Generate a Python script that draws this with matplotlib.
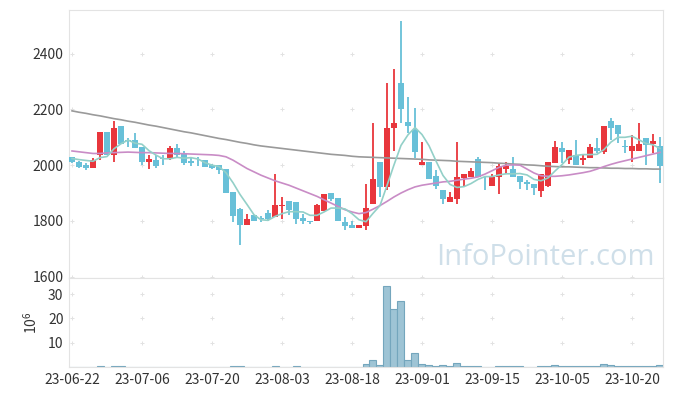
import numpy as np
import matplotlib
matplotlib.use("Agg")
import matplotlib.pyplot as plt

plt.rcParams["font.family"] = ["Noto Sans CJK KR", "DejaVu Sans"]

# daily OHLC (KRW), 2023-06-22 .. 2023-10-26, trading days only
opens = [2028, 2011, 1999, 1989, 2035, 2118, 2035, 2140, 2092, 2090,
         2064, 2012, 2020, 2026, 2023, 2061, 2040, 2016, 2002, 2020,
         1999, 1999, 1986, 1903, 1842, 1786, 1820, 1812, 1828, 1814,
         1855, 1871, 1867, 1811, 1801, 1800, 1835, 1899, 1881, 1795,
         1784, 1774, 1782, 1862, 2013, 1920, 2135, 2294, 2156, 2128,
         2001, 2013, 1962, 1910, 1868, 1880, 1953, 1956, 2022, 1937,
         1925, 1959, 1987, 1988, 1960, 1940, 1932, 1908, 1926, 2008,
         2060, 2018, 2038, 2018, 2026, 2062, 2048, 2158, 2144, 2068,
         2051, 2050, 2099, 2077, 2068]
highs = [2030, 2014, 2008, 2026, 2118, 2118, 2157, 2140, 2098, 2117,
         2064, 2038, 2038, 2036, 2068, 2077, 2051, 2028, 2028, 2020,
         2006, 1999, 1986, 1903, 1848, 1826, 1822, 1817, 1838, 1968,
         1884, 1871, 1867, 1823, 1801, 1862, 1898, 1899, 1881, 1814,
         1798, 1784, 1934, 2150, 2013, 2294, 2344, 2517, 2243, 2204,
         2084, 2013, 1984, 1910, 1904, 2084, 1968, 1990, 2028, 1956,
         1968, 2004, 2011, 2028, 1960, 1946, 1932, 1970, 2011, 2085,
         2084, 2054, 2092, 2036, 2075, 2099, 2140, 2168, 2144, 2090,
         2108, 2150, 2099, 2111, 2100]
lows = [2008, 1990, 1982, 1989, 2020, 2035, 2012, 2076, 2066, 2060,
        1999, 1988, 1990, 1999, 2020, 2030, 1999, 1998, 1996, 1992,
        1985, 1970, 1900, 1796, 1715, 1786, 1800, 1795, 1800, 1814,
        1807, 1820, 1790, 1790, 1788, 1800, 1835, 1872, 1800, 1769,
        1774, 1774, 1766, 1862, 1886, 1910, 2051, 2150, 2116, 2024,
        2001, 1949, 1916, 1862, 1868, 1862, 1925, 1956, 1956, 1910,
        1925, 1898, 1970, 1958, 1916, 1910, 1892, 1886, 1920, 2008,
        2008, 2004, 2000, 1999, 2026, 2042, 2040, 2092, 2078, 2042,
        2012, 2050, 2000, 2042, 1936]
closes = [2012, 1994, 1989, 2020, 2118, 2035, 2135, 2076, 2088, 2062,
          2012, 2022, 1998, 2022, 2061, 2035, 2008, 2008, 1999, 1994,
          1990, 1982, 1900, 1818, 1786, 1807, 1800, 1807, 1808, 1856,
          1858, 1838, 1807, 1800, 1799, 1856, 1898, 1879, 1800, 1781,
          1774, 1784, 1848, 1950, 1920, 2135, 2150, 2200, 2140, 2048,
          2013, 1949, 1925, 1880, 1886, 1958, 1968, 1978, 1956, 1936,
          1959, 1996, 1996, 1958, 1940, 1933, 1918, 1970, 2011, 2064,
          2048, 2054, 2000, 2025, 2064, 2051, 2140, 2133, 2111, 2066,
          2068, 2075, 2072, 2086, 1997]
# volume, millions of shares
volume = [0.1, 0.1, 0.1, 0.1, 0.35, 0.1, 0.35, 0.35, 0.1, 0.1,
          0.1, 0.1, 0.1, 0.1, 0.1, 0.1, 0.1, 0.1, 0.1, 0.1,
          0.1, 0.1, 0.1, 0.35, 0.35, 0.1, 0.1, 0.1, 0.1, 0.35,
          0.1, 0.1, 0.35, 0.1, 0.1, 0.1, 0.1, 0.1, 0.1, 0.1,
          0.1, 0.1, 1.1, 2.9, 0.7, 33.3, 24.1, 27.2, 2.9, 5.6,
          1.2, 0.7, 0.35, 0.7, 0.35, 1.5, 0.35, 0.35, 0.35, 0.1,
          0.1, 0.35, 0.35, 0.35, 0.35, 0.1, 0.1, 0.35, 0.35, 0.7,
          0.35, 0.35, 0.35, 0.35, 0.35, 0.35, 1.1, 0.7, 0.35, 0.35,
          0.35, 0.35, 0.35, 0.35, 0.7]

# moving averages as drawn
ma5 = [2024, 2020, 2017, 2014, 2027, 2031, 2059, 2077, 2090, 2079,
       2075, 2052, 2036, 2023, 2023, 2028, 2025, 2027, 2022, 2009,
       2000, 1995, 1973, 1937, 1895, 1859, 1822, 1804, 1802, 1816,
       1826, 1833, 1833, 1832, 1820, 1820, 1832, 1846, 1846, 1843,
       1826, 1804, 1797, 1827, 1855, 1927, 2001, 2071, 2109, 2135,
       2110, 2070, 2015, 1963, 1931, 1920, 1923, 1934, 1949, 1959,
       1959, 1965, 1969, 1969, 1970, 1965, 1949, 1944, 1954, 1979,
       2002, 2029, 2035, 2038, 2038, 2039, 2056, 2083, 2100, 2100,
       2104, 2091, 2078, 2073, 2060]
ma20 = [2051, 2048, 2045, 2042, 2042, 2044, 2045, 2046, 2047, 2046,
        2045, 2045, 2044, 2043, 2042, 2042, 2041, 2040, 2039, 2038,
        2037, 2035, 2030, 2018, 2003, 1988, 1976, 1964, 1954, 1944,
        1936, 1928, 1918, 1908, 1898, 1888, 1876, 1864, 1852, 1840,
        1832, 1826, 1830, 1842, 1855, 1870, 1886, 1900, 1912, 1922,
        1928, 1932, 1936, 1940, 1942, 1946, 1950, 1953, 1958, 1968,
        1980, 1992, 2000, 2001, 2000, 1986, 1972, 1962, 1960, 1960,
        1962, 1965, 1969, 1973, 1978, 1986, 1995, 2003, 2010, 2016,
        2022, 2028, 2034, 2040, 2046]
ma120 = [2195, 2190, 2186, 2181, 2177, 2172, 2167, 2163, 2158, 2154,
         2149, 2144, 2140, 2135, 2130, 2125, 2120, 2116, 2111, 2106,
         2101, 2096, 2092, 2087, 2082, 2078, 2073, 2069, 2066, 2063,
         2060, 2057, 2054, 2051, 2048, 2045, 2042, 2039, 2037, 2035,
         2032, 2030, 2029, 2028, 2027, 2026, 2025, 2024, 2023, 2022,
         2021, 2019, 2018, 2017, 2016, 2014, 2013, 2012, 2011, 2010,
         2009, 2007, 2006, 2004, 2003, 2001, 2000, 1998, 1996, 1995,
         1994, 1994, 1993, 1992, 1991, 1991, 1990, 1989, 1989, 1988,
         1988, 1987, 1987, 1986, 1986]

tick_idx = [0, 10, 20, 30, 40, 50, 60, 70, 80]
tick_labels = ["23-06-22", "23-07-06", "23-07-20", "23-08-03", "23-08-18",
               "23-09-01", "23-09-15", "23-10-05", "23-10-20"]
price_ticks = [1600, 1800, 2000, 2200, 2400]
vol_ticks = [10, 20, 30]

UP, DOWN = "#e8363c", "#68c0d8"
GRID = "#e2e2e2"

o, h, l, c = map(np.array, (opens, highs, lows, closes))
x = np.arange(len(c))
up = c >= o
col = np.where(up, UP, DOWN)

fig = plt.figure(figsize=(6.73, 3.96), dpi=100)
ax = fig.add_axes([69 / 673, 118 / 396, 594 / 673, 268 / 396])
axv = fig.add_axes([69 / 673, 29 / 396, 594 / 673, 89 / 396], sharex=ax)

# candles
ax.vlines(x, l, h, colors=col, lw=1.3, zorder=2)
body = np.maximum(np.abs(c - o), 2.5)
ax.bar(x, body, bottom=np.minimum(o, c) - np.where(np.abs(c - o) < 2.5, 1.2, 0),
       width=0.72, color=col, lw=0, zorder=3)

ax.plot(x, ma120, color="#9a9a9a", lw=1.2, zorder=4)
ax.plot(x, ma20, color="#c98cc6", lw=1.2, zorder=4)
ax.plot(x, ma5, color="#93d0c8", lw=1.2, zorder=4)

ax.set_xlim(-0.43, 84.43)
ax.set_ylim(1595, 2557)
ax.set_yticks(price_ticks)

# volume
axv.bar(x, volume, width=1.0, color="#9ec4d5", edgecolor="#74a6bd", lw=0.8)
axv.set_ylim(0, 36.7)
axv.set_yticks(vol_ticks)
axv.set_ylabel(r"$\mathregular{10^6}$", fontsize=10, color="#333333", labelpad=6)
axv.set_xticks(tick_idx)
axv.set_xticklabels(tick_labels)

for a, yt in ((ax, price_ticks), (axv, vol_ticks)):
    for s in a.spines.values():
        s.set_color("#e3e3e3")
    a.tick_params(length=0, labelsize=10, colors="#333333", pad=4)
    gx, gy = np.meshgrid(tick_idx, yt)
    a.scatter(gx.ravel(), gy.ravel(), marker="+", s=10, color=GRID, lw=0.7, zorder=1)
ax.tick_params(labelbottom=False)

ax.text(0.9865, 0.048, "InfoPointer.com", transform=ax.transAxes, ha="right", va="baseline",
        fontsize=21, color="#cfdfe9", family=["Open Sans", "DejaVu Sans"], zorder=0)

fig.savefig("out.png", dpi=100)
